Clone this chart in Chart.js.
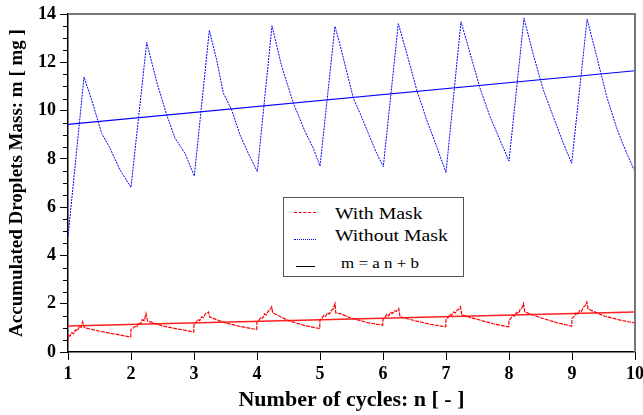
<!DOCTYPE html>
<html>
<head>
<meta charset="utf-8">
<script src="https://cdn.jsdelivr.net/npm/chart.js@4.4.1/dist/chart.umd.min.js"></script>
<style>
  body { margin: 0; background: #fff; }
  #wrap { position: relative; width: 643px; height: 415px; }
  #legend { position: absolute; left: 283px; top: 197px; width: 179px; height: 78px;
    border: 1.5px solid #555; background: #fff; font-family: "Liberation Serif", serif; color: #000; }
  #legend .mark { position: absolute; height: 0; }
  #legend span { position: absolute; font-size: 17.5px; line-height: 20px; white-space: nowrap;
    transform: scaleX(1.13); transform-origin: left center; }
</style>
</head>
<body>
<div id="wrap">
  <canvas id="chart" width="643" height="415"></canvas>
  <div id="legend">
    <div class="mark" style="left:10px;width:22px;top:14px;border-top:1px dashed #ff0000"></div>
    <span style="left:51px;top:5px">With Mask</span>
    <div class="mark" style="left:10px;width:22px;top:41px;border-top:1.5px dotted #0000ff"></div>
    <span style="left:51px;top:27px">Without Mask</span>
    <div class="mark" style="left:12px;width:19px;top:68px;border-top:1.5px solid #000"></div>
    <span style="left:57px;top:55px;font-size:15px">m = a n + b</span>
  </div>
</div>
<script>
// [n, m]
const withoutMask = [
  [1.0, 4.77], [1.254, 11.39], [1.376, 10.44], [1.534, 9.06], [1.667, 8.44], [1.825, 7.54],
  [2.0, 6.82], [2.249, 12.82], [2.407, 11.2], [2.566, 9.82], [2.70, 8.85], [2.857, 8.23],
  [3.005, 7.29], [3.243, 13.32], [3.36, 12.1], [3.466, 10.72], [3.598, 10.03], [3.73, 8.99], [3.862, 8.23],
  [4.005, 7.47], [4.238, 13.51], [4.392, 11.83], [4.577, 10.31], [4.762, 9.13], [4.894, 8.44],
  [5.0, 7.70], [5.238, 13.49], [5.317, 12.73], [5.53, 10.51], [5.635, 9.89], [5.767, 9.06], [5.9, 8.23],
  [6.005, 7.68], [6.243, 13.6], [6.376, 12.38], [6.535, 10.86], [6.694, 9.61], [6.852, 8.51],
  [7.0, 7.43], [7.238, 13.68], [7.381, 12.38], [7.54, 10.93], [7.698, 9.75], [7.857, 8.78],
  [8.0, 7.91], [8.238, 13.83], [8.386, 12.31], [8.545, 10.86], [8.703, 9.75], [8.862, 8.65],
  [8.995, 7.82], [9.24, 13.79], [9.392, 12.24], [9.551, 10.58], [9.71, 9.27], [9.868, 8.23], [10.0, 7.47]
];

const withMask = [
  [1.0, 0.49], [1.003, 0.70], [1.03, 0.66], [1.06, 0.80], [1.09, 0.76], [1.12, 0.92], [1.15, 0.88], [1.18, 1.06], [1.21, 1.02], [1.233, 1.25], [1.26, 1.01], [1.5, 0.86], [1.75, 0.74], [1.995, 0.62],
  [2.0, 0.93], [2.03, 0.98], [2.06, 1.06], [2.09, 1.02], [2.12, 1.20], [2.15, 1.16], [2.18, 1.34], [2.21, 1.30], [2.238, 1.59], [2.26, 1.29], [2.5, 1.08], [2.75, 0.95], [2.995, 0.83],
  [3.0, 1.18], [3.03, 1.22], [3.06, 1.34], [3.09, 1.30], [3.12, 1.46], [3.15, 1.42], [3.18, 1.58], [3.21, 1.62], [3.23, 1.66], [3.25, 1.45], [3.5, 1.2], [3.75, 1.05], [3.995, 0.93],
  [4.0, 1.25], [4.03, 1.30], [4.06, 1.44], [4.09, 1.40], [4.12, 1.58], [4.15, 1.54], [4.18, 1.70], [4.21, 1.75], [4.233, 1.87], [4.25, 1.62], [4.5, 1.3], [4.75, 1.1], [4.995, 0.97],
  [5.0, 1.34], [5.03, 1.40], [5.06, 1.52], [5.09, 1.48], [5.12, 1.62], [5.15, 1.58], [5.18, 1.72], [5.21, 1.78], [5.238, 2.0], [5.25, 1.62], [5.32, 1.59], [5.5, 1.4], [5.75, 1.22], [5.995, 1.11],
  [6.0, 1.34], [6.03, 1.42], [6.06, 1.56], [6.09, 1.50], [6.12, 1.64], [6.15, 1.60], [6.18, 1.70], [6.21, 1.68], [6.25, 1.80], [6.27, 1.46], [6.5, 1.3], [6.75, 1.15], [6.995, 1.04],
  [7.0, 1.34], [7.03, 1.42], [7.06, 1.56], [7.09, 1.52], [7.12, 1.66], [7.15, 1.62], [7.18, 1.74], [7.21, 1.78], [7.23, 1.87], [7.25, 1.53], [7.5, 1.35], [7.75, 1.17], [7.995, 1.04],
  [8.0, 1.31], [8.03, 1.40], [8.06, 1.52], [8.09, 1.48], [8.12, 1.64], [8.15, 1.60], [8.18, 1.78], [8.21, 1.84], [8.23, 2.0], [8.25, 1.66], [8.5, 1.42], [8.75, 1.22], [8.995, 1.07],
  [9.0, 1.38], [9.03, 1.46], [9.06, 1.60], [9.09, 1.56], [9.12, 1.72], [9.15, 1.68], [9.18, 1.86], [9.21, 1.92], [9.235, 2.07], [9.255, 1.78], [9.5, 1.5], [9.75, 1.33], [10.0, 1.20]
];

// linear fits m = a n + b, end points
const fitN = [1, 10];
const fitWithout = [9.43, 11.65];
const fitWith = [1.08, 1.66];

const FONT = "Liberation Serif";
const pts = (arr) => arr.map(([x, y]) => ({ x, y }));
const fitPts = (ys) => fitN.map((x, i) => ({ x, y: ys[i] }));

// minor y ticks + grey top/right frame
const frame = {
  id: 'frame',
  afterDraw(chart) {
    const { ctx, chartArea: a, scales: { y } } = chart;
    ctx.save();
    ctx.strokeStyle = '#000';
    ctx.lineWidth = 1;
    for (let v = 0.5; v < 14; v += 0.5) {
      if (v % 2 === 0) continue;
      const py = Math.round(y.getPixelForValue(v)) + 0.5;
      ctx.beginPath();
      ctx.moveTo(a.left - 5, py);
      ctx.lineTo(a.left, py);
      ctx.stroke();
    }
    ctx.strokeStyle = '#777';
    ctx.lineWidth = 2;
    ctx.beginPath();
    ctx.moveTo(a.left, a.top);
    ctx.lineTo(a.right, a.top);
    ctx.lineTo(a.right, a.bottom);
    ctx.stroke();
    ctx.restore();
  }
};

new Chart(document.getElementById('chart'), {
  type: 'line',
  data: {
    datasets: [
      { data: pts(withoutMask), borderColor: '#0000ff', borderWidth: 1, borderDash: [2, 1] },
      { data: pts(withMask), borderColor: '#ff0000', borderWidth: 1.2, borderDash: [4, 1] },
      { data: fitPts(fitWithout), borderColor: '#0000ff', borderWidth: 1.2 },
      { data: fitPts(fitWith), borderColor: '#ff2020', borderWidth: 1.5 },
    ]
  },
  options: {
    responsive: false,
    animation: false,
    devicePixelRatio: 1,
    layout: { padding: { top: 14, right: 8, left: 0, bottom: 0 } },
    elements: { point: { radius: 0 }, line: { tension: 0 } },
    plugins: { legend: { display: false }, tooltip: { enabled: false } },
    scales: {
      x: {
        type: 'linear', min: 1, max: 10,
        ticks: { stepSize: 1, color: '#000', padding: 4, maxRotation: 0, font: { family: FONT, size: 18, weight: 'bold' } },
        grid: { drawOnChartArea: false, tickLength: 8, color: '#000' },
        border: { color: '#000', width: 1.5 },
        title: { display: true, text: 'Number of cycles: n [ - ]', color: '#000',
          font: { family: FONT, size: 22, weight: 'bold' }, padding: { top: 0, bottom: 1 } },
        afterFit: (s) => { s.height = 63; s.paddingLeft = 0; s.paddingRight = 0; },
      },
      y: {
        min: 0, max: 14,
        ticks: { stepSize: 2, color: '#000', padding: 4, font: { family: FONT, size: 18, weight: 'bold' } },
        grid: { drawOnChartArea: false, tickLength: 8, color: '#000' },
        border: { color: '#000', width: 1.5 },
        title: { display: true, text: 'Accumulated Droplets Mass: m [ mg ]', color: '#000',
          font: { family: FONT, size: 19, weight: 'bold' }, padding: { top: 6, bottom: 0 } },
        afterFit: (s) => { s.width = 68; s.paddingTop = 0; s.paddingBottom = 0; },
      }
    }
  },
  plugins: [frame]
});
</script>
</body>
</html>
